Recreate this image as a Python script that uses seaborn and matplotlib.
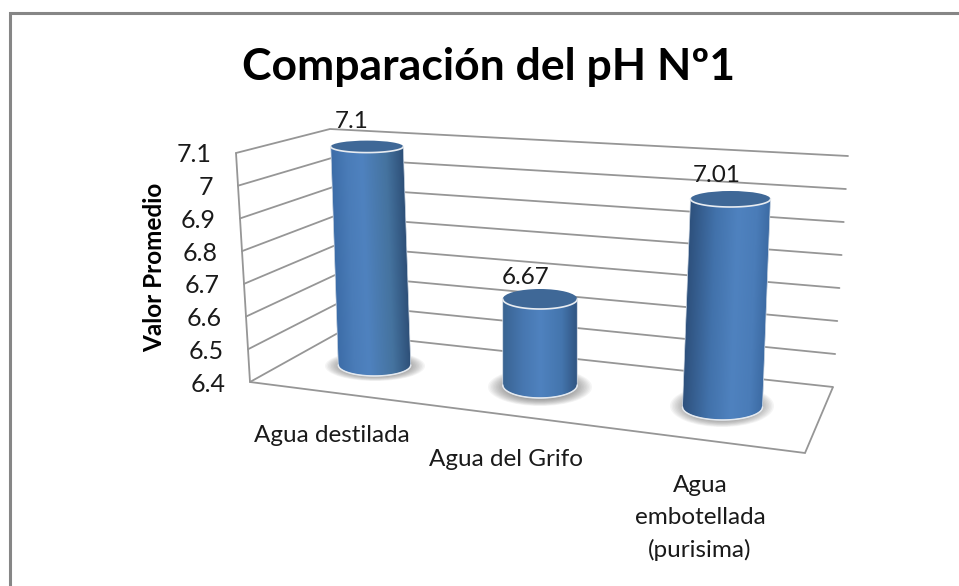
import numpy as np
import pandas as pd
import matplotlib
matplotlib.use("Agg")
import matplotlib.pyplot as plt
import seaborn as sns
from matplotlib.colors import LinearSegmentedColormap
from matplotlib.patches import Ellipse, Polygon, PathPatch
from matplotlib.path import Path
from matplotlib.transforms import Affine2D

categories = ["Agua destilada", "Agua del Grifo", "Agua\nembotellada\n(purisima)"]
ph_values = [7.1, 6.67, 7.01]
value_labels = ["7.1", "6.67", "7.01"]
axis_ticks = [6.4, 6.5, 6.6, 6.7, 6.8, 6.9, 7.0, 7.1]
tick_labels = ["6.4", "6.5", "6.6", "6.7", "6.8", "6.9", "7", "7.1"]

BASE = axis_ticks[0]
TOP = axis_ticks[-1]
GRID = "#969696"

# where each cylinder stands in the fake 3d view (pixels)
base_cx = [374.5, 540, 722.5]
base_cy = [365, 385, 407]
lean = [-10.7, 0, 13.1]
rise = [312, 318.5, 341]
width_px = [72.5, 74.5, 80]
ry_top = [6, 10, 8]
ry_bot = [11, 13, 13]
shadow = [(375, 366, 50, 15), (540, 387, 52, 19), (722, 406, 52, 21)]
shades = [
    ["#3b6ba6", "#4a7cb8", "#4f82bf", "#45739f", "#2a4a72"],
    ["#38628f", "#4777b0", "#4f82bf", "#4475ad", "#2d4f7a"],
    ["#2c4e79", "#4272ab", "#4f82bf", "#4a7cb8", "#3a68a0"],
]
peaks = [0.42, 0.5, 0.6]
label_pos = [(352, 121), (526, 278), (717, 176)]
cat_pos = [(332, 435), (506, 459), (700, 518)]

sns.set_theme(style="white")
plt.rcParams["font.family"] = ["Lato", "DejaVu Sans"]

fig = plt.figure(figsize=(9.59, 5.86), dpi=100)
main = fig.add_axes([0, 0, 1, 1])
main.set_xlim(0, 959)
main.set_ylim(586, 0)
main.axis("off")

# outer frame, only top and left are inside the crop
main.plot([9.5, 9.5, 959], [586, 13, 13], color="#868686", lw=2.2, solid_joinstyle="miter")


def wall(tick, low, high):
    return np.interp(tick, [BASE, TOP], [low, high])


# walls and floor
main.plot([250, 236], [382, 153], color=GRID, lw=1.3)
for t in axis_ticks:
    xs = [wall(t, 250, 236), wall(t, 338, 330), wall(t, 833, 848)]
    ys = [wall(t, 382, 153), wall(t, 333, 129), wall(t, 387, 156)]
    main.plot(xs, ys, color=GRID, lw=1.3)
main.add_patch(Polygon([(250, 382), (805, 453), (833, 387)], closed=False, fill=False, ec=GRID, lw=1.3))

# soft shadows under the cylinders
for sx, sy, rx, ry in shadow:
    for k in np.linspace(1, 0.55, 16):
        main.add_patch(Ellipse((sx, sy), 2 * rx * k, 2 * ry * k, fc="#555555", ec="none", alpha=0.06))

df = pd.DataFrame({"tipo": categories, "ph": ph_values})
bar_ax = fig.add_axes([0, 0, 1, 1], zorder=2)
bar_ax.patch.set_alpha(0)
sns.barplot(data=df, x="tipo", y="ph", color="#4f81bd", width=0.8, errorbar=None, ax=bar_ax)
bar_ax.set_xlim(-0.5, 2.5)
bar_ax.set_ylim(BASE, TOP)

for i, (bar, val) in enumerate(zip(bar_ax.patches, ph_values)):
    sx = width_px[i] / bar.get_width()
    aff = Affine2D(np.array([
        [sx, lean[i], base_cx[i] - i * sx - lean[i] * BASE],
        [0, -rise[i], base_cy[i] + rise[i] * BASE],
        [0, 0, 1],
    ]))
    bar.set_y(BASE)
    bar.set_height(val - BASE)
    bar.set_linewidth(0)
    bar.set_transform(aff + main.transData)
    bar.set_clip_on(False)

    # cylinder outline in pixels, round at the foot
    x0 = bar.get_x()
    (blx, bly), (brx, bry), (trx, try_), (tlx, tly) = aff.transform(
        [(x0, BASE), (x0 + bar.get_width(), BASE), (x0 + bar.get_width(), val), (x0, val)]
    )
    ang = np.linspace(0, np.pi, 50)
    arc_x = base_cx[i] + width_px[i] / 2 * np.cos(ang)
    arc_y = base_cy[i] + ry_bot[i] * np.sin(ang)
    outline = np.column_stack([np.r_[tlx, trx, arc_x], np.r_[tly, try_, arc_y]])
    body = PathPatch(Path(np.vstack([outline, outline[0]])), fc="none", ec="#dde3ea", lw=0.5, zorder=4,
                     transform=main.transData)
    bar_ax.add_patch(body)

    cmap = LinearSegmentedColormap.from_list(
        "cyl",
        [(0, shades[i][0]), (peaks[i] * 0.55, shades[i][1]), (peaks[i], shades[i][2]),
         (peaks[i] + (1 - peaks[i]) * 0.55, shades[i][3]), (1, shades[i][4])],
    )
    low = BASE - (ry_bot[i] + 1) / rise[i]
    img = bar_ax.imshow(
        np.linspace(0, 1, 128)[None, :], cmap=cmap, aspect="auto", zorder=3,
        extent=(x0 - 0.02, x0 + bar.get_width() + 0.02, low, val), interpolation="bilinear",
    )
    img.set_transform(aff + main.transData)
    img.set_clip_path(body)

    # foot highlight and top face
    bar_ax.plot(arc_x, arc_y, color="#e4e9ef", lw=1.1, zorder=5, transform=main.transData)
    top_cx = (tlx + trx) / 2
    top = Ellipse((top_cx, tly), width_px[i], 2 * ry_top[i], fc="#3f6897", ec="none", zorder=6,
                  transform=main.transData)
    bar_ax.add_patch(top)
    bar_ax.plot(top_cx + width_px[i] / 2 * np.cos(ang), tly + ry_top[i] * np.sin(ang), color="#e8ecf1", lw=1.2,
                zorder=7, transform=main.transData)

    bar_ax.text(label_pos[i][0], label_pos[i][1], value_labels[i], transform=main.transData,
                ha="center", va="center", fontsize=17.5, color="#1a1a1a")
    bar_ax.text(cat_pos[i][0], cat_pos[i][1], categories[i], transform=main.transData,
                ha="center", va="center", fontsize=17.5, color="#1a1a1a", linespacing=1.6)

bar_ax.set_xlim(-0.5, 2.5)
bar_ax.set_ylim(BASE, TOP)
bar_ax.axis("off")

for t, lab in zip(axis_ticks, tick_labels):
    main.text(wall(t, 226, 211), wall(t, 384, 155), lab, ha="right", va="center", fontsize=18, color="#1a1a1a")

main.text(489, 67, "Comparación del pH Nº1", ha="center", va="center", fontsize=32, fontweight="bold", color="black")
main.text(155, 267, "Valor Promedio", rotation=90, ha="center", va="center", fontsize=17.5, fontweight="bold",
          color="black")

fig.savefig("out.png", dpi=100)
